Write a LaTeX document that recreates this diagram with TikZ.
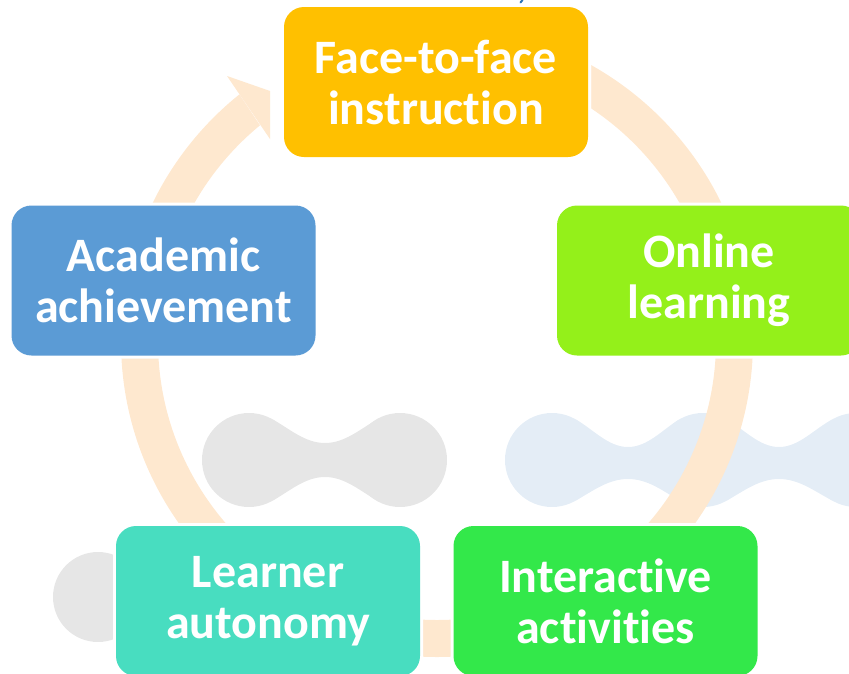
\documentclass[tikz,border=0pt]{standalone}
\usepackage{fontspec}
\setmainfont{Carlito}[Ligatures=NoCommon]
\definecolor{ringc}{RGB}{254,232,207}
\definecolor{greyc}{RGB}{230,230,230}
\definecolor{bluec}{RGB}{228,237,246}
\definecolor{facec}{RGB}{255,192,0}
\definecolor{onlinec}{RGB}{148,240,26}
\definecolor{interc}{RGB}{51,232,74}
\definecolor{learnc}{RGB}{72,221,192}
\definecolor{acadc}{RGB}{91,155,213}
\definecolor{markc}{RGB}{46,117,182}
\begin{document}
\begin{tikzpicture}[x=1pt,y=-1pt,
  box/.style={rectangle, rounded corners=20pt, minimum width=304pt, minimum height=150pt,
    inner sep=0pt, text=white, align=center,
    font=\fontsize{48}{51}\selectfont\bfseries,
    preaction={draw=white, line width=6pt}},
  ring/.style={draw=ringc, line width=37pt}]
\useasboundingbox (0,0) rectangle (849,673);
% background watermark shapes
\fill[greyc] (249,460) circle (47) (400,460) circle (47);
\fill[greyc] (272.5,419.3) .. controls (290,429) and (305,443) .. (325,443)
  .. controls (345,443) and (360,429) .. (377.5,419.3) -- (377.5,500.7)
  .. controls (360,491) and (345,477) .. (325,477)
  .. controls (305,477) and (290,491) .. (272.5,500.7) -- cycle;
\fill[greyc] (98,597) circle (45);
\fill[bluec] (552,460) circle (47) (703,460) circle (47) (856,460) circle (47);
\fill[bluec] (575.5,419.3) .. controls (593,429) and (608,447) .. (628,447)
  .. controls (648,447) and (663,429) .. (679.5,419.3) -- (679.5,500.7)
  .. controls (663,491) and (648,479) .. (628,479)
  .. controls (608,479) and (593,491) .. (575.5,500.7) -- cycle;
\fill[bluec] (726.5,419.3) .. controls (744,429) and (759,447) .. (779,447)
  .. controls (799,447) and (814,429) .. (832.5,419.3) -- (832.5,500.7)
  .. controls (814,491) and (799,479) .. (779,479)
  .. controls (759,479) and (744,491) .. (726.5,500.7) -- cycle;
% cycle ring
\coordinate (rc) at (437,341);
\draw[ring] (rc) circle (297.5);
\fill[white] (200,35) -- (300,185) -- (591,185) -- (591,-5) -- (200,-5) -- cycle;
\fill[ringc] (227,76) -- (270,91) -- (270,139) -- cycle;
% small mark at top
\draw[markc, line width=2pt, line cap=round] (522.5,0) -- (520.5,2.5);
% boxes
\node[box, fill=facec] (face) at (436,82) {Face-to-face\\instruction};
\node[box, fill=onlinec] (online) at (709,280.5) {Online\\learning};
\node[box, fill=interc] (inter) at (605.5,601) {Interactive\\activities};
\node[box, fill=learnc] (learn) at (268,601) {Learner\\autonomy};
\node[box, fill=acadc] (acad) at (163.5,280.5) {Academic\\achievement};
\end{tikzpicture}
\end{document}
